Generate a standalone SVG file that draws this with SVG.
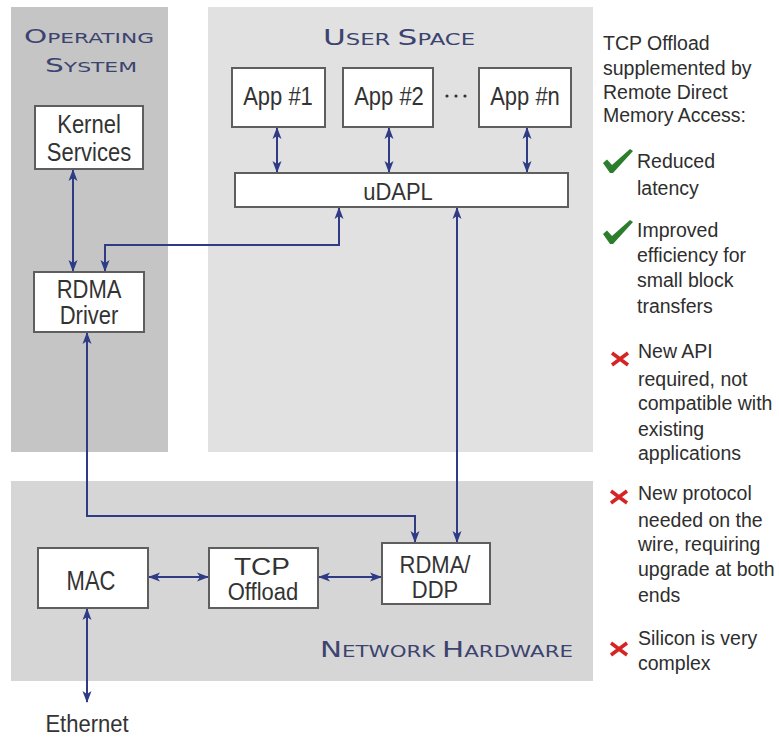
<svg xmlns="http://www.w3.org/2000/svg" width="779" height="738" viewBox="0 0 779 738">
  <style>
    .panel-os { fill: #c5c5c5; }
    .panel-user { fill: #e1e1e1; }
    .panel-net { fill: #d6d6d6; }
    .box { fill: #ffffff; stroke: #5e5e5e; stroke-width: 2; }
    .lbl { font-family: "Liberation Sans", Arial, sans-serif; font-size: 22px; fill: #333333; text-anchor: middle; }
    .ttl { font-family: "DejaVu Sans", Verdana, sans-serif; fill: #3c436f; }
    .note { font-family: "Liberation Sans", Arial, sans-serif; font-size: 19.5px; fill: #2e2e2e; }
    .wire { fill: none; stroke: #2f3b85; stroke-width: 2; }
    .ok { fill: #2c7d2c; }
    .no { stroke: #d42424; stroke-width: 3.5; stroke-linecap: butt; }
  </style>
  <defs>
    <marker id="head" viewBox="0 0 12 10" refX="11" refY="5" markerWidth="12" markerHeight="10" markerUnits="userSpaceOnUse" orient="auto-start-reverse">
      <path d="M0,0.5 L12,5 L0,9.5 L3,5 Z" fill="#2f3b85"/>
    </marker>
  </defs>

  <rect width="779" height="738" fill="#ffffff"/>

  <!-- layer backgrounds -->
  <g id="layers">
    <rect class="panel-os" x="11" y="7" width="157" height="445"/>
    <rect class="panel-user" x="208" y="7" width="385" height="445"/>
    <rect class="panel-net" x="11" y="481" width="582" height="200"/>
    <text class="ttl" x="24" y="43" textLength="130" lengthAdjust="spacingAndGlyphs"><tspan font-size="19">O</tspan><tspan font-size="14">PERATING</tspan></text>
    <text class="ttl" x="45" y="72" textLength="92" lengthAdjust="spacingAndGlyphs"><tspan font-size="19">S</tspan><tspan font-size="14">YSTEM</tspan></text>
    <text class="ttl" x="323" y="45" textLength="152" lengthAdjust="spacingAndGlyphs"><tspan font-size="22">U</tspan><tspan font-size="16">SER </tspan><tspan font-size="22">S</tspan><tspan font-size="16">PACE</tspan></text>
    <text class="ttl" x="320" y="657" textLength="253" lengthAdjust="spacingAndGlyphs"><tspan font-size="22">N</tspan><tspan font-size="16">ETWORK </tspan><tspan font-size="22">H</tspan><tspan font-size="16">ARDWARE</tspan></text>
  </g>

  <!-- connectors -->
  <g id="connectors">
    <path class="wire" d="M73,170 V271" marker-start="url(#head)" marker-end="url(#head)"/>
    <path class="wire" d="M277,128 V172" marker-start="url(#head)" marker-end="url(#head)"/>
    <path class="wire" d="M389,128 V172" marker-start="url(#head)" marker-end="url(#head)"/>
    <path class="wire" d="M527,128 V172" marker-start="url(#head)" marker-end="url(#head)"/>
    <path class="wire" d="M339,208 V245 H105 V271" marker-start="url(#head)" marker-end="url(#head)"/>
    <path class="wire" d="M457,208 V542" marker-start="url(#head)" marker-end="url(#head)"/>
    <path class="wire" d="M87,333 V516 H415 V542" marker-start="url(#head)" marker-end="url(#head)"/>
    <path class="wire" d="M149,577 H208" marker-start="url(#head)" marker-end="url(#head)"/>
    <path class="wire" d="M319,577 H381" marker-start="url(#head)" marker-end="url(#head)"/>
    <path class="wire" d="M87,609 V702" marker-start="url(#head)" marker-end="url(#head)"/>
  </g>

  <!-- operating system -->
  <g id="kernel-services">
    <rect class="box" x="35" y="106" width="108" height="63"/>
    <text class="lbl" transform="translate(89,133) scale(1,1.2)">Kernel</text>
    <text class="lbl" transform="translate(89,161) scale(1,1.2)">Services</text>
  </g>
  <g id="rdma-driver">
    <rect class="box" x="34" y="272" width="110" height="60"/>
    <text class="lbl" transform="translate(89,298) scale(1,1.15)">RDMA</text>
    <text class="lbl" transform="translate(89,324) scale(1,1.15)">Driver</text>
  </g>

  <!-- user space -->
  <g id="app-1">
    <rect class="box" x="232" y="68" width="93" height="59"/>
    <text class="lbl" transform="translate(278,105) scale(1,1.2)">App #1</text>
  </g>
  <g id="app-2">
    <rect class="box" x="343" y="68" width="90" height="59"/>
    <text class="lbl" transform="translate(389,105) scale(1,1.2)">App #2</text>
  </g>
  <g id="ellipsis">
    <circle cx="447" cy="96" r="1.6" fill="#333"/>
    <circle cx="456" cy="96" r="1.6" fill="#333"/>
    <circle cx="465" cy="96" r="1.6" fill="#333"/>
  </g>
  <g id="app-n">
    <rect class="box" x="479" y="68" width="92" height="59"/>
    <text class="lbl" transform="translate(525,105) scale(1,1.2)">App #n</text>
  </g>
  <g id="udapl">
    <rect class="box" x="235" y="173" width="333" height="34"/>
    <text class="lbl" transform="translate(398,200) scale(1,1.1)">uDAPL</text>
  </g>

  <!-- network hardware -->
  <g id="mac">
    <rect class="box" x="38" y="548" width="110" height="60"/>
    <text class="lbl" transform="translate(91,590) scale(1,1.25)">MAC</text>
  </g>
  <g id="tcp-offload">
    <rect class="box" x="209" y="548" width="109" height="60"/>
    <text class="lbl" transform="translate(262,575) scale(1,1.1)" textLength="56" lengthAdjust="spacingAndGlyphs">TCP</text>
    <text class="lbl" transform="translate(263,600) scale(1,1.1)">Offload</text>
  </g>
  <g id="rdma-ddp">
    <rect class="box" x="382" y="543" width="108" height="61"/>
    <text class="lbl" transform="translate(435,573) scale(1,1.1)">RDMA/</text>
    <text class="lbl" transform="translate(435,598) scale(1,1.1)">DDP</text>
  </g>
  <g id="ethernet">
    <text class="lbl" transform="translate(87,732) scale(1,1.1)">Ethernet</text>
  </g>

  <!-- pros and cons -->
  <g id="notes">
    <text class="note" x="603" y="50">TCP Offload</text>
    <text class="note" x="603" y="75">supplemented by</text>
    <text class="note" x="603" y="99">Remote Direct</text>
    <text class="note" x="603" y="122">Memory Access:</text>

    <path class="ok" d="M603,163 L607,159.5 L612,165 L630,149 L633,151 L613,173 L610,173 Z"/>
    <text class="note" x="637" y="168">Reduced</text>
    <text class="note" x="637" y="195">latency</text>

    <path class="ok" d="M603,234 L607,230.5 L612,236 L630,220 L633,222 L613,244 L610,244 Z"/>
    <text class="note" x="637" y="237">Improved</text>
    <text class="note" x="637" y="262">efficiency for</text>
    <text class="note" x="637" y="287">small block</text>
    <text class="note" x="637" y="313">transfers</text>

    <path class="no" d="M612,353 L628,365 M628,353 L612,365"/>
    <text class="note" x="638" y="358">New API</text>
    <text class="note" x="638" y="386">required, not</text>
    <text class="note" x="638" y="410">compatible with</text>
    <text class="note" x="638" y="436">existing</text>
    <text class="note" x="638" y="460">applications</text>

    <path class="no" d="M611,491 L627,503 M627,491 L611,503"/>
    <text class="note" x="638" y="500">New protocol</text>
    <text class="note" x="638" y="527">needed on the</text>
    <text class="note" x="638" y="551">wire, requiring</text>
    <text class="note" x="638" y="576">upgrade at both</text>
    <text class="note" x="638" y="602">ends</text>

    <path class="no" d="M611,643 L627,655 M627,643 L611,655"/>
    <text class="note" x="638" y="645">Silicon is very</text>
    <text class="note" x="638" y="670">complex</text>
  </g>
</svg>
